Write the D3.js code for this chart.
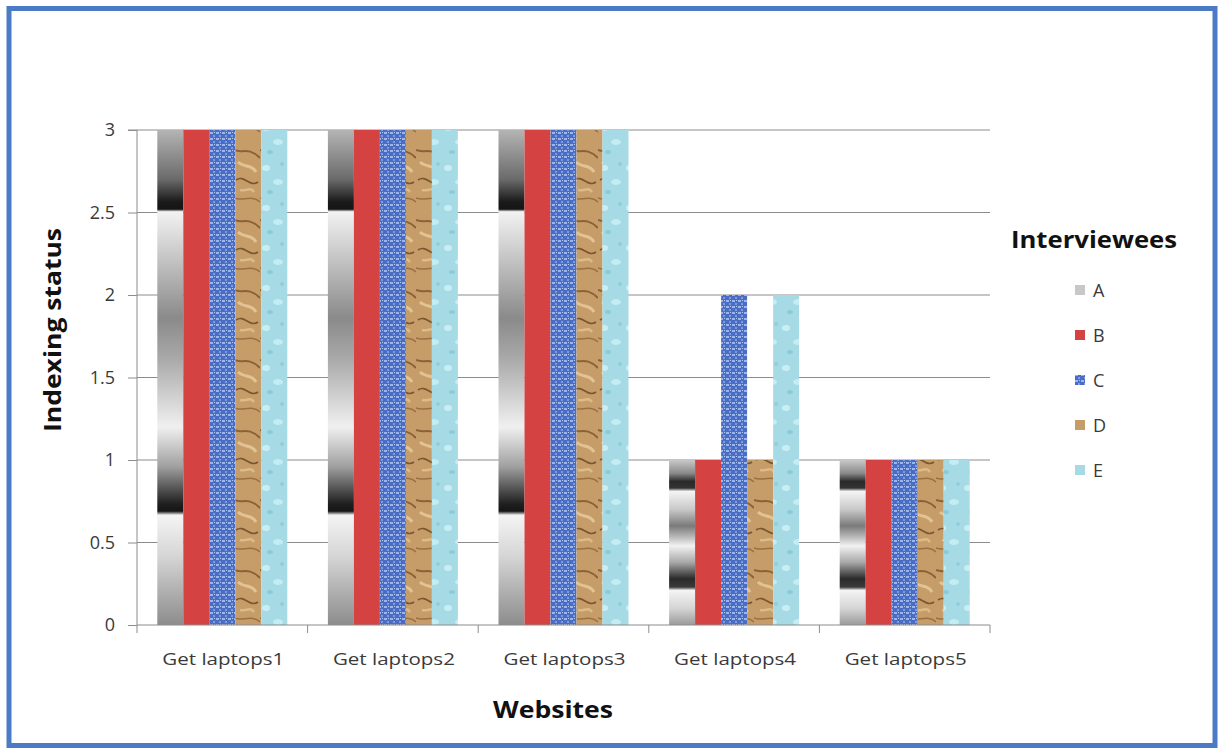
<!DOCTYPE html>
<html><head><meta charset="utf-8">
<script src="https://cdn.jsdelivr.net/npm/d3@7"></script>
<style>body{margin:0;background:#fff}svg{display:block}</style>
</head><body>
<svg id="c" width="1226" height="749"></svg>
<script>
const categories = ["Get laptops1","Get laptops2","Get laptops3","Get laptops4","Get laptops5"];
const seriesNames = ["A","B","C","D","E"];
const valuesA = [3,3,3,1,1];
const valuesB = [3,3,3,1,1];
const valuesC = [3,3,3,2,1];
const valuesD = [3,3,3,1,1];
const valuesE = [3,3,3,2,1];
const yTicks = [0,0.5,1,1.5,2,2.5,3];
const series = [valuesA,valuesB,valuesC,valuesD,valuesE];

(function(){
const svg = d3.select("#c");
const defs = svg.append("defs");
const FF = "Open Sans, sans-serif";

function grad(id, stops){
  const g = defs.append("linearGradient").attr("id",id).attr("x1",0).attr("y1",0).attr("x2",0).attr("y2",1);
  stops.forEach(s=>g.append("stop").attr("offset",s[0]).attr("stop-color",s[1]));
}
grad("gA3",[[0,"#b4b4b4"],[0.10,"#6a6a6a"],[0.145,"#1a1a1a"],[0.160,"#151515"],[0.165,"#f2f2f2"],[0.22,"#d8d8d8"],[0.38,"#8a8a8a"],[0.46,"#a8a8a8"],[0.60,"#f0f0f0"],[0.68,"#a0a0a0"],[0.755,"#202020"],[0.77,"#151515"],[0.778,"#f4f4f4"],[0.86,"#d6d6d6"],[1,"#8c8c8c"]]);
grad("gA1",[[0,"#c8c8c8"],[0.08,"#8a8a8a"],[0.13,"#2a2a2a"],[0.17,"#333"],[0.19,"#f4f4f4"],[0.30,"#c8c8c8"],[0.40,"#7a7a7a"],[0.47,"#bdbdbd"],[0.52,"#f2f2f2"],[0.62,"#a8a8a8"],[0.72,"#2a2a2a"],[0.77,"#3a3a3a"],[0.79,"#f4f4f4"],[0.90,"#d4d4d4"],[1,"#9a9a9a"]]);

const pC = defs.append("pattern").attr("id","pC").attr("patternUnits","userSpaceOnUse").attr("width",6).attr("height",6);
pC.append("rect").attr("width",6).attr("height",6).attr("fill","#4a6cc4");
pC.append("rect").attr("x",0).attr("y",0).attr("width",3).attr("height",2).attr("fill","#9ab6ec");
pC.append("rect").attr("x",3).attr("y",3).attr("width",2).attr("height",2).attr("fill","#7c9ce0");
pC.append("rect").attr("x",4).attr("y",0).attr("width",1).attr("height",1).attr("fill","#b8cdf2");

const pD = defs.append("pattern").attr("id","pD").attr("patternUnits","userSpaceOnUse").attr("width",26).attr("height",70);
pD.append("rect").attr("width",26).attr("height",70).attr("fill","#c69d68");
pD.append("path").attr("d","M0 10 C8 14 14 6 26 18").attr("stroke","#8a6236").attr("stroke-width",2).attr("fill","none");
pD.append("path").attr("d","M2 40 C10 34 16 48 24 42").attr("stroke","#7a5630").attr("stroke-width",1.6).attr("fill","none");
pD.append("path").attr("d","M4 22 C10 28 18 24 22 32").attr("stroke","#e2c393").attr("stroke-width",3).attr("fill","none");
pD.append("path").attr("d","M0 58 C8 62 18 54 26 62").attr("stroke","#9a7042").attr("stroke-width",1.5).attr("fill","none");
pD.append("path").attr("d","M6 50 C12 52 16 46 20 52").attr("stroke","#dcbb88").attr("stroke-width",2.5).attr("fill","none");

const pE = defs.append("pattern").attr("id","pE").attr("patternUnits","userSpaceOnUse").attr("width",26).attr("height",40);
pE.append("rect").attr("width",26).attr("height",40).attr("fill","#a6dbe6");
pE.append("ellipse").attr("cx",6).attr("cy",8).attr("rx",4).attr("ry",3).attr("fill","#c9eef4");
pE.append("ellipse").attr("cx",18).attr("cy",22).attr("rx",5).attr("ry",3).attr("fill","#c4ecf3");
pE.append("ellipse").attr("cx",10).attr("cy",32).attr("rx",3).attr("ry",2).attr("fill","#8ccbd9");
pE.append("ellipse").attr("cx",22).attr("cy",4).attr("rx",2).attr("ry",2).attr("fill","#90cedb");

const fills = [v => v>1.5 ? "url(#gA3)" : "url(#gA1)", ()=>"#d44341", ()=>"url(#pC)", ()=>"url(#pD)", ()=>"url(#pE)"];
const legendFills = ["#c8c8c8","#d44341","url(#pC)","url(#pD)","url(#pE)"];

svg.append("rect").attr("x",9).attr("y",8.5).attr("width",1206).attr("height",737).attr("fill","#fff").attr("stroke","#4a7bc4").attr("stroke-width",5);

const pLeft = 137, pRight = 990, pTop = 130, pBottom = 625;
const x0 = d3.scaleBand().domain(categories).range([pLeft,pRight]).padding(0);
const x1 = d3.scaleBand().domain(seriesNames).range([0,130]).padding(0);
const y = d3.scaleLinear().domain([0,3]).range([pBottom,pTop]);

svg.append("g").selectAll("line").data(yTicks.filter(t=>t>0)).join("line")
  .attr("x1",pLeft).attr("x2",pRight).attr("y1",d=>y(d)).attr("y2",d=>y(d))
  .attr("stroke","#8c8c8c").attr("stroke-width",1);

const off = (x0.bandwidth()-130)/2;
series.forEach((vals,si)=>{
  svg.append("g").selectAll("rect").data(vals).join("rect")
    .attr("x",(d,i)=>x0(categories[i])+off+x1(seriesNames[si]))
    .attr("width",x1.bandwidth())
    .attr("y",d=>y(d)).attr("height",d=>pBottom-y(d))
    .attr("fill",d=>fills[si](d));
});

const yAxis = d3.axisLeft(y).tickValues(yTicks).tickSize(9).tickPadding(13).tickFormat(d=>d3.format("")(d));
const gy = svg.append("g").attr("transform",`translate(${pLeft},0)`).call(yAxis);
gy.select(".domain").attr("stroke","#8c8c8c").attr("d",`M-9,${pTop}H0V${pBottom}`);
gy.selectAll(".tick line").attr("stroke","#8c8c8c");
gy.selectAll("text").attr("font-family",FF).attr("font-size",18).attr("fill","#3a3a3a");

const gx = svg.append("g").attr("transform",`translate(0,${pBottom})`);
gx.append("line").attr("x1",pLeft).attr("x2",pRight).attr("stroke","#8c8c8c");
gx.selectAll(".tk").data(categories.concat(["end"])).join("line").attr("class","tk")
  .attr("x1",(d,i)=>pLeft+i*x0.bandwidth()).attr("x2",(d,i)=>pLeft+i*x0.bandwidth()).attr("y1",0).attr("y2",8).attr("stroke","#8c8c8c");
gx.selectAll("text").data(categories).join("text")
  .attr("x",d=>x0(d)+x0.bandwidth()/2+1).attr("y",40).attr("text-anchor","middle")
  .attr("font-family",FF).attr("font-size",17).attr("fill","#3a3a3a")
  .attr("textLength",122).attr("lengthAdjust","spacingAndGlyphs").text(d=>d);

svg.append("text").attr("transform","translate(61,330) rotate(-90)").attr("text-anchor","middle")
  .attr("font-family",FF).attr("font-weight","bold").attr("font-size",24).attr("fill","#111")
  .attr("textLength",204).attr("lengthAdjust","spacingAndGlyphs").text("Indexing status");
svg.append("text").attr("x",553).attr("y",718).attr("text-anchor","middle")
  .attr("font-family",FF).attr("font-weight","bold").attr("font-size",24).attr("fill","#111")
  .attr("textLength",120).attr("lengthAdjust","spacingAndGlyphs").text("Websites");

svg.append("text").attr("x",1094).attr("y",248).attr("text-anchor","middle")
  .attr("font-family",FF).attr("font-weight","bold").attr("font-size",24).attr("fill","#111")
  .attr("textLength",166).attr("lengthAdjust","spacingAndGlyphs").text("Interviewees");
const lg = svg.append("g").selectAll("g").data(seriesNames).join("g")
  .attr("transform",(d,i)=>`translate(1075,${290+i*45})`);
lg.append("rect").attr("x",0).attr("y",-5).attr("width",10).attr("height",10).attr("fill",(d,i)=>legendFills[i]);
lg.append("text").attr("x",18).attr("y",7).attr("font-family",FF).attr("font-size",18).attr("fill","#3a3a3a").text(d=>d);
})();
</script>
</body></html>
